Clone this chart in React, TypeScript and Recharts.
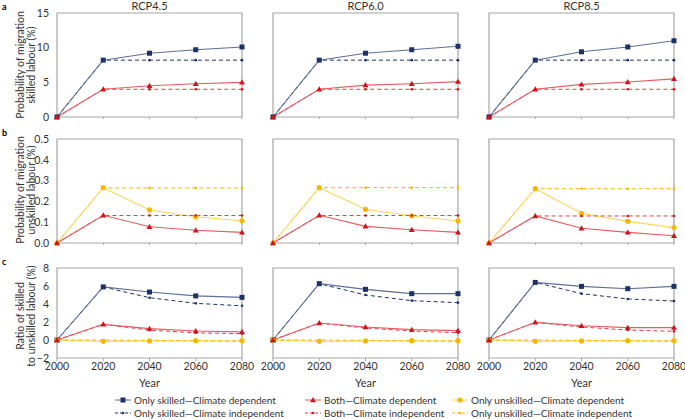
import React from "react";
import { LineChart, Line, XAxis, YAxis, ReferenceArea } from "recharts";

const YEARS = [2000, 2020, 2040, 2060, 2080];
const SCENARIOS = ["RCP4.5", "RCP6.0", "RCP8.5"];

// a: probability of migration, skilled labour (%)
const A_SKILLED_CD = [
  [0, 8.2, 9.2, 9.7, 10.1],
  [0, 8.2, 9.2, 9.7, 10.2],
  [0, 8.2, 9.4, 10.1, 11.0],
];
const A_SKILLED_CI = [
  [0, 8.2, 8.2, 8.2, 8.2],
  [0, 8.2, 8.2, 8.2, 8.2],
  [0, 8.2, 8.2, 8.2, 8.2],
];
const A_BOTH_CD = [
  [0, 4.0, 4.5, 4.8, 5.0],
  [0, 4.0, 4.6, 4.8, 5.1],
  [0, 4.0, 4.7, 5.05, 5.5],
];
const A_BOTH_CI = [
  [0, 4.0, 4.0, 4.0, 4.0],
  [0, 4.0, 4.0, 4.0, 4.0],
  [0, 4.0, 4.0, 4.0, 4.0],
];

// b: probability of migration, unskilled labour (%)
const B_UNSKILLED_CD = [
  [0, 0.266, 0.159, 0.126, 0.107],
  [0, 0.266, 0.162, 0.131, 0.106],
  [0, 0.261, 0.143, 0.104, 0.074],
];
const B_UNSKILLED_CI = [
  [0, 0.265, 0.265, 0.265, 0.265],
  [0, 0.266, 0.266, 0.266, 0.266],
  [0, 0.261, 0.261, 0.261, 0.261],
];
const B_BOTH_CD = [
  [0, 0.133, 0.078, 0.061, 0.051],
  [0, 0.133, 0.08, 0.064, 0.051],
  [0, 0.13, 0.071, 0.051, 0.035],
];
const B_BOTH_CI = [
  [0, 0.132, 0.132, 0.132, 0.132],
  [0, 0.132, 0.132, 0.132, 0.132],
  [0, 0.13, 0.13, 0.13, 0.13],
];

// c: ratio of skilled to unskilled labour (%)
const C_SKILLED_CD = [
  [0, 5.9, 5.33, 4.9, 4.74],
  [0, 6.26, 5.63, 5.15, 5.15],
  [0, 6.4, 5.96, 5.7, 5.96],
];
const C_SKILLED_CI = [
  [0, 5.9, 4.7, 4.07, 3.8],
  [0, 6.26, 5.0, 4.37, 4.15],
  [0, 6.4, 5.15, 4.56, 4.33],
];
const C_BOTH_CD = [
  [0, 1.74, 1.26, 1.0, 0.9],
  [0, 1.89, 1.44, 1.15, 1.04],
  [0, 1.96, 1.59, 1.37, 1.37],
];
const C_BOTH_CI = [
  [0, 1.74, 1.1, 0.8, 0.7],
  [0, 1.89, 1.33, 1.0, 0.81],
  [0, 1.96, 1.44, 1.11, 0.96],
];
const C_UNSKILLED_CD = [
  [0, -0.15, -0.1, -0.08, -0.08],
  [0, -0.15, -0.1, -0.08, -0.08],
  [0, -0.15, -0.1, -0.08, -0.08],
];
const C_UNSKILLED_CI = [
  [0, 0, -0.05, -0.1, -0.15],
  [0, 0, -0.05, -0.1, -0.15],
  [0, 0, -0.05, -0.1, -0.15],
];

const FONT = "Lato, 'Noto Sans', sans-serif";
const NAVY = "#1c3168";
const NAVY_LINE = "#5d6f98";
const RED = "#d3121c";
const RED_LINE = "#ea5a60";
const YELLOW = "#f5b700";
const YELLOW_LINE = "#fcd65a";
const BORDER = "#a6a6a6";
const TICK_FONT = 10.5;

const COL_LEFT = [57, 273, 489];
const PLOT_W = 185;
const ROW_TOP = [13, 139, 268];
const ROW_H = [104, 104, 90];
const TOP_PAD = 10;
const RIGHT_PAD = 18;

type SeriesKey = "sCD" | "sCI" | "bCD" | "bCI" | "uCD" | "uCI";

const Square = (p: any) =>
  p.cx == null ? null : <rect x={p.cx - 2.5} y={p.cy - 2.5} width={5} height={5} fill={NAVY} />;
const Triangle = (p: any) =>
  p.cx == null ? null : (
    <path d={`M${p.cx},${p.cy - 3} L${p.cx + 3},${p.cy + 2.2} L${p.cx - 3},${p.cy + 2.2} Z`} fill={RED} />
  );
const Circle = (color: string, r: number) => (p: any) =>
  p.cx == null ? null : <circle cx={p.cx} cy={p.cy} r={r} fill={color} />;

const SERIES: Record<SeriesKey, { stroke: string; dash?: string; dot: any; width: number }> = {
  sCI: { stroke: NAVY, dash: "4 3", dot: Circle(NAVY, 1.3), width: 1 },
  sCD: { stroke: NAVY_LINE, dot: Square, width: 1.1 },
  bCI: { stroke: "#e23b42", dash: "4 3", dot: Circle(RED, 1.3), width: 1 },
  bCD: { stroke: RED_LINE, dot: Triangle, width: 1.1 },
  uCI: { stroke: YELLOW, dash: "4 3", dot: Circle(YELLOW, 1.3), width: 1 },
  uCD: { stroke: YELLOW_LINE, dot: Circle(YELLOW, 2.6), width: 1.1 },
};

type RowDef = {
  domain: [number, number];
  ticks: number[];
  fmt: (v: number) => string;
  series: Partial<Record<SeriesKey, number[][]>>;
  order: SeriesKey[];
};

const ROWS: RowDef[] = [
  {
    domain: [0, 15],
    ticks: [0, 5, 10, 15],
    fmt: (v) => String(v),
    series: { sCI: A_SKILLED_CI, sCD: A_SKILLED_CD, bCI: A_BOTH_CI, bCD: A_BOTH_CD },
    order: ["sCI", "sCD", "bCI", "bCD"],
  },
  {
    domain: [0, 0.5],
    ticks: [0, 0.1, 0.2, 0.3, 0.4, 0.5],
    fmt: (v) => v.toFixed(1),
    series: { uCI: B_UNSKILLED_CI, uCD: B_UNSKILLED_CD, bCI: B_BOTH_CI, bCD: B_BOTH_CD },
    order: ["uCI", "uCD", "bCI", "bCD"],
  },
  {
    domain: [-2, 8],
    ticks: [-2, 0, 2, 4, 6, 8],
    fmt: (v) => (v < 0 ? `\u2212${Math.abs(v)}` : String(v)),
    series: {
      sCI: C_SKILLED_CI,
      sCD: C_SKILLED_CD,
      uCI: C_UNSKILLED_CI,
      uCD: C_UNSKILLED_CD,
      bCI: C_BOTH_CI,
      bCD: C_BOTH_CD,
    },
    order: ["sCI", "sCD", "uCD", "uCI", "bCI", "bCD"],
  },
];

const Y_LABELS = [
  ["Probability of migration", "skilled labour (%)"],
  ["Probability of migration", "unskilled labour (%)"],
  ["Ratio of skilled", "to unskilled labour (%)"],
];
const Y_LABEL_CENTER = [65, 190, 316];
const PANEL_LETTERS = ["a", "b", "c"];

function Panel({ row, col }: { row: number; col: number }) {
  const def = ROWS[row];
  const data = YEARS.map((year, i) => {
    const d: Record<string, number> = { year };
    (Object.keys(def.series) as SeriesKey[]).forEach((k) => {
      d[k] = def.series[k]![col][i];
    });
    return d;
  });
  const isBottom = row === 2;
  const showY = col === 0;
  const h = ROW_H[row];
  return (
    <div style={{ position: "absolute", left: COL_LEFT[col] - 40, top: ROW_TOP[row] - TOP_PAD }}>
      <LineChart
        width={40 + PLOT_W + RIGHT_PAD}
        height={TOP_PAD + h + 22}
        data={data}
        margin={{ top: TOP_PAD, right: RIGHT_PAD, bottom: 0, left: 0 }}
      >
        <XAxis
          dataKey="year"
          type="number"
          domain={[2000, 2080]}
          ticks={YEARS}
          height={22}
          axisLine={false}
          tickLine={{ stroke: BORDER }}
          tickSize={isBottom ? 3 : 2}
          tick={{ fontSize: TICK_FONT, fill: "#333", fontFamily: FONT }}
          tickFormatter={(v) => (isBottom ? String(v) : "")}
        />
        <YAxis
          type="number"
          domain={def.domain}
          ticks={def.ticks}
          width={40}
          axisLine={false}
          tickLine={false}
          interval={0}
          tick={{ fontSize: TICK_FONT, fill: "#333", fontFamily: FONT }}
          tickFormatter={(v) => (showY ? def.fmt(v) : "")}
        />
        <ReferenceArea
          x1={2000}
          x2={2080}
          y1={def.domain[0]}
          y2={def.domain[1]}
          fill="none"
          stroke={BORDER}
          strokeWidth={1.2}
        />
        {def.order.map((k) => {
          const s = SERIES[k];
          return (
            <Line
              key={k}
              dataKey={k}
              stroke={s.stroke}
              strokeWidth={s.width}
              strokeDasharray={s.dash}
              dot={s.dot}
              activeDot={false}
              isAnimationActive={false}
            />
          );
        })}
      </LineChart>
    </div>
  );
}

const LEGEND: { key: SeriesKey; label: string }[][] = [
  [
    { key: "sCD", label: "Only skilled\u2014Climate dependent" },
    { key: "sCI", label: "Only skilled\u2014Climate independent" },
  ],
  [
    { key: "bCD", label: "Both\u2014Climate dependent" },
    { key: "bCI", label: "Both\u2014Climate independent" },
  ],
  [
    { key: "uCD", label: "Only unskilled\u2014Climate dependent" },
    { key: "uCI", label: "Only unskilled\u2014Climate independent" },
  ],
];
const LEGEND_X = [115, 305, 452];
const LEGEND_Y = [400, 413];

function LegendSymbol({ k }: { k: SeriesKey }) {
  const s = SERIES[k];
  return (
    <svg width={16} height={8} style={{ position: "absolute", left: 0, top: 0 }}>
      <line x1={0} y1={4} x2={16} y2={4} stroke={s.stroke} strokeWidth={1} strokeDasharray={s.dash ? "3 2" : undefined} />
      {s.dot({ cx: 8, cy: 4 })}
    </svg>
  );
}

export default function App() {
  const text: React.CSSProperties = { position: "absolute", fontFamily: FONT, color: "#333", whiteSpace: "nowrap" };
  return (
    <div style={{ position: "absolute", left: 0, top: 0, width: 685, height: 419, background: "#fff", overflow: "hidden" }}>
      {SCENARIOS.map((s, c) => (
        <div key={s} style={{ ...text, fontSize: 11, left: COL_LEFT[c], width: PLOT_W, top: 0, textAlign: "center", lineHeight: "12px" }}>
          {s}
        </div>
      ))}
      <svg width={60} height={419} style={{ position: "absolute", left: 0, top: 0 }}>
        {PANEL_LETTERS.map((l, r) => (
          <text key={l} x={2} y={ROW_TOP[r] - 3} fontFamily={FONT} fontSize={9} fontWeight={700} fill="#000">
            {l}
          </text>
        ))}
        {Y_LABELS.map((lines, r) => (
          <text
            key={r}
            transform={`translate(0,${Y_LABEL_CENTER[r]}) rotate(-90)`}
            textAnchor="middle"
            fontFamily={FONT}
            fontSize={10.5}
            fill="#333"
          >
            <tspan x={0} y={23.5}>{lines[0]}</tspan>
            <tspan x={0} y={34.5}>{lines[1]}</tspan>
          </text>
        ))}
      </svg>
      {ROWS.map((_, r) =>
        SCENARIOS.map((_s, c) => <Panel key={`${r}-${c}`} row={r} col={c} />)
      )}
      {COL_LEFT.map((x, c) => (
        <div key={c} style={{ ...text, fontSize: 11, left: x, width: PLOT_W, top: 377, textAlign: "center", lineHeight: "12px" }}>
          Year
        </div>
      ))}
      {LEGEND.map((col, ci) =>
        col.map((item, ri) => (
          <div key={item.key} style={{ ...text, fontSize: 10, left: LEGEND_X[ci], top: LEGEND_Y[ri] - 6, lineHeight: "12px", height: 12 }}>
            <div style={{ position: "absolute", left: 0, top: 2 }}>
              <LegendSymbol k={item.key} />
            </div>
            <span style={{ marginLeft: 19 }}>{item.label}</span>
          </div>
        ))
      )}
    </div>
  );
}
